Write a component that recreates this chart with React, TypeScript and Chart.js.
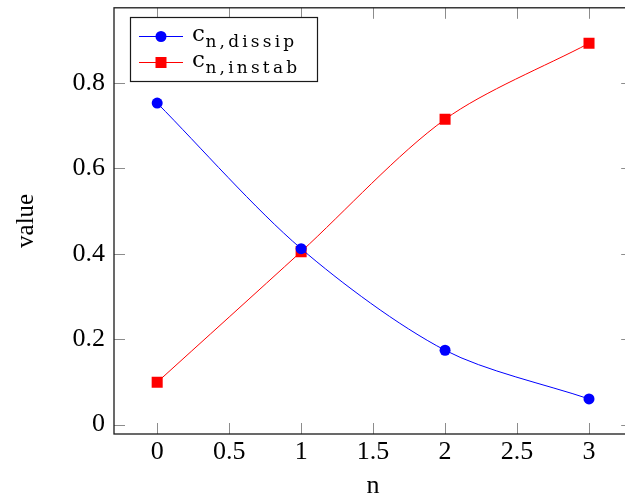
import React, { useEffect, useRef } from "react";
import { Chart, registerables } from "chart.js";

Chart.register(...registerables);

const nValues = [0, 1, 2, 3];
const dissipValues = [0.753, 0.412, 0.174, 0.06];
const instabValues = [0.099, 0.405, 0.715, 0.893];
const xTicks = [0, 0.5, 1, 1.5, 2, 2.5, 3];
const yTicks = [0, 0.2, 0.4, 0.6, 0.8];
const seriesLabels = [
  { main: "c", sub: "n,dissip" },
  { main: "c", sub: "n,instab" },
];

const X_MIN = -0.3;
const X_MAX = 3.3;
const Y_MIN = -0.0222;
const Y_MAX = 0.9762;

const TICK_FONT = "Liberation Serif";

const framePlugin = {
  id: "frameTicks",
  beforeDatasetsDraw(chart: any) {
    const { ctx, chartArea } = chart;
    const { left, right, top, bottom } = chartArea;
    const xs = chart.scales.x;
    const ys = chart.scales.y;
    const L = 11;
    ctx.save();
    ctx.strokeStyle = "#8c8c8c";
    ctx.lineWidth = 1;
    ctx.beginPath();
    xTicks.forEach((v) => {
      const px = Math.round(xs.getPixelForValue(v)) + 0.5;
      ctx.moveTo(px, top);
      ctx.lineTo(px, top + L);
      ctx.moveTo(px, bottom);
      ctx.lineTo(px, bottom - L);
    });
    yTicks.forEach((v) => {
      const py = Math.round(ys.getPixelForValue(v)) + 0.5;
      ctx.moveTo(left, py);
      ctx.lineTo(left + L, py);
      ctx.moveTo(right, py);
      ctx.lineTo(right - L, py);
    });
    ctx.stroke();
    ctx.strokeStyle = "#1a1a1a";
    ctx.lineWidth = 1.3;
    ctx.strokeRect(left, top, right - left, bottom - top);
    ctx.restore();
  },
};

const legendPlugin = {
  id: "customLegend",
  afterDraw(chart: any) {
    const { ctx } = chart;
    const bx = 130.5;
    const by = 17.5;
    const bw = 187;
    const bh = 64;
    ctx.save();
    ctx.fillStyle = "#ffffff";
    ctx.fillRect(bx, by, bw, bh);
    ctx.strokeStyle = "#1a1a1a";
    ctx.lineWidth = 1.2;
    ctx.strokeRect(bx, by, bw, bh);
    const rows = [36.5, 62.5];
    chart.data.datasets.forEach((ds: any, i: number) => {
      const y = rows[i];
      ctx.strokeStyle = ds.borderColor;
      ctx.lineWidth = 1;
      ctx.beginPath();
      ctx.moveTo(139, y);
      ctx.lineTo(183, y);
      ctx.stroke();
      ctx.fillStyle = ds.backgroundColor;
      if (ds.pointStyle === "rect") {
        ctx.fillRect(161 - 5.5, y - 5.5, 11, 11);
      } else {
        ctx.beginPath();
        ctx.arc(161, y, 5.5, 0, Math.PI * 2);
        ctx.fill();
      }
      const lab = seriesLabels[i];
      ctx.fillStyle = "#000";
      ctx.textBaseline = "alphabetic";
      ctx.textAlign = "left";
      ctx.font = "23px 'DejaVu Serif'";
      const baseY = y + 4.5;
      ctx.fillText(lab.main, 192, baseY);
      const w = ctx.measureText(lab.main).width;
      ctx.font = "17px 'DejaVu Serif'";
      (ctx as any).letterSpacing = "3.2px";
      ctx.fillText(lab.sub, 192 + w + 0.5, baseY + 6);
      (ctx as any).letterSpacing = "0px";
    });
    ctx.restore();
  },
};

export default function App() {
  const canvasRef = useRef<HTMLCanvasElement | null>(null);

  useEffect(() => {
    if (!canvasRef.current) return;
    const chart = new Chart(canvasRef.current, {
      type: "scatter",
      data: {
        datasets: [
          {
            label: "c_{n,dissip}",
            data: nValues.map((n, i) => ({ x: n, y: dissipValues[i] })),
            borderColor: "#0000ff",
            backgroundColor: "#0000ff",
            pointStyle: "circle",
            pointRadius: 5.5,
            pointHoverRadius: 5.5,
            borderWidth: 1,
            pointBorderWidth: 0,
            showLine: true,
            tension: 0.3,
          },
          {
            label: "c_{n,instab}",
            data: nValues.map((n, i) => ({ x: n, y: instabValues[i] })),
            borderColor: "#ff0000",
            backgroundColor: "#ff0000",
            pointStyle: "rect",
            pointRadius: 7.8,
            pointHoverRadius: 7.8,
            borderWidth: 1,
            pointBorderWidth: 0,
            showLine: true,
            tension: 0.3,
          },
        ],
      },
      options: {
        animation: false,
        responsive: true,
        maintainAspectRatio: false,
        layout: { padding: { left: 0, top: 0, right: 7.5, bottom: 0 } },
        plugins: {
          legend: { display: false },
          tooltip: { enabled: false },
        },
        scales: {
          x: {
            type: "linear",
            min: X_MIN,
            max: X_MAX,
            grid: { display: false, drawTicks: false },
            border: { display: false },
            afterBuildTicks: (scale: any) => {
              scale.ticks = xTicks.map((v) => ({ value: v }));
            },
            afterFit: (scale: any) => {
              scale.height = 69;
              scale.paddingLeft = 0;
              scale.paddingRight = 0;
            },
            ticks: {
              padding: 3,
              color: "#000",
              font: { family: TICK_FONT, size: 26 },
              maxRotation: 0,
              autoSkip: false,
              callback: (v: any) => String(v),
            },
            title: {
              display: true,
              text: "n",
              color: "#000",
              font: { family: TICK_FONT, size: 26 },
              padding: { top: 0, bottom: 1 },
            },
          },
          y: {
            type: "linear",
            min: Y_MIN,
            max: Y_MAX,
            grid: { display: false, drawTicks: false },
            border: { display: false },
            afterBuildTicks: (scale: any) => {
              scale.ticks = yTicks.map((v) => ({ value: v }));
            },
            afterFit: (scale: any) => {
              scale.width = 114;
              scale.paddingTop = 0;
              scale.paddingBottom = 0;
            },
            ticks: {
              padding: 9,
              color: "#000",
              font: { family: TICK_FONT, size: 26 },
              autoSkip: false,
              callback: (v: any) => String(v),
            },
            title: {
              display: true,
              text: "value",
              color: "#000",
              font: { family: TICK_FONT, size: 25 },
              padding: { top: 11, bottom: 0 },
            },
          },
        },
      },
      plugins: [framePlugin, legendPlugin],
    });
    return () => chart.destroy();
  }, []);

  return (
    <div
      style={{
        position: "absolute",
        left: 0,
        top: 0,
        width: 625,
        height: 503,
        overflow: "hidden",
        background: "#fff",
      }}
    >
      <div style={{ position: "relative", width: 640, height: 503 }}>
        <canvas ref={canvasRef} />
      </div>
    </div>
  );
}
